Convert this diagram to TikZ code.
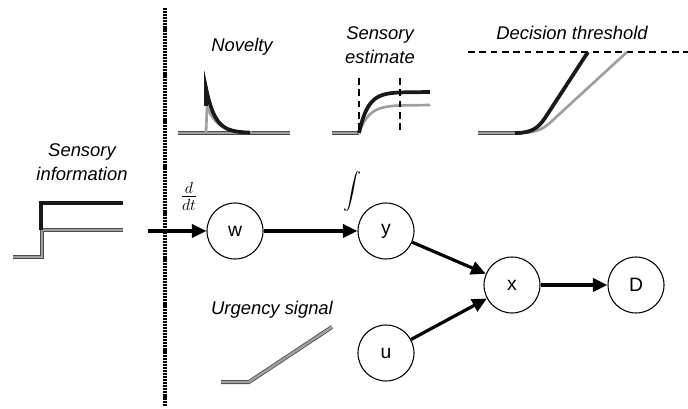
\documentclass[tikz,border=0pt]{standalone}
\usepackage{fontspec}
\setmainfont{Liberation Sans}
\usetikzlibrary{arrows.meta}
\begin{document}
\begin{tikzpicture}[x=0.75pt,y=-0.75pt,
  circ/.style={draw, circle, line width=0.8pt, minimum size=42pt, inner sep=0pt, font=\fontsize{14.5}{17}\selectfont},
  lbl/.style={font=\fontsize{13.8}{18}\selectfont\itshape, align=center, inner sep=0pt},
  conn/.style={line width=2.4pt, -{Triangle[length=11pt,width=10pt]}},
  blk/.style={line width=2.8pt, black!90},
  gry/.style={line width=2pt, gray!75},
  gryo/.style={line width=0.6pt, draw=black!70, double=gray!75, double distance=1.8pt},
  dsh/.style={line width=2pt, dash pattern=on 5pt off 3.5pt},
  dotl/.style={line width=2.4pt, dash pattern=on 1.6pt off 0.7pt}
]
\useasboundingbox (0,0) rectangle (688,409);

% vertical dotted separator
\coordinate (dtop) at (165,8);
\coordinate (dbot) at (165,406);
\draw[dotl] (dtop) -- (dbot);

% nodes
\node[circ] (w) at (235,231) {w};
\node[circ] (y) at (386,231) {y};
\node[circ] (x) at (512,285) {x};
\node[circ] (D) at (636,285) {D};
\node[circ] (u) at (386,353) {u};

\coordinate (in) at (148,231);
\draw[conn] (in) -- (w);
\draw[conn] (w) -- (y);
\draw[conn] (y) -- (x);
\draw[conn] (u) -- (x);
\draw[conn] (x) -- (D);

\node (ddt) at (189,196) {\fontsize{17}{19}\selectfont$\frac{d}{dt}$};
\node (int) at (352,192) {\scalebox{1.35}{$\displaystyle\int$}};

% Sensory information
\node[lbl] (si) at (82,162) {Sensory\\information};
\draw[gryo] (13,257) -- (42,257) -- (42,230) -- (123,230);
\draw[blk] (41,230) -- (41,203) -- (123,203);

% Novelty
\node[lbl] (nov) at (242,47) {Novelty};
\draw[gryo] (178,133) -- (290,133);
\draw[gry] (206,133) -- (207,107) -- plot[domain=0:45,samples=40] ({207+\x},{133-26*exp(-\x/11)});
\draw[blk] (206,106) -- (206,88) -- plot[domain=0:44,samples=40] ({206+\x},{133-45*exp(-\x/9)});

% Sensory estimate
\node[lbl] (se) at (380,45) {Sensory\\estimate};
\draw[gryo] (332,133) -- (359,133);
\draw[gry] plot[domain=0:41,samples=40] ({359+\x},{133-28*(1-exp(-\x/10))}) -- (430,105);
\draw[blk] plot[domain=0:41,samples=40] ({359+\x},{133-41*(1-exp(-\x/9))}) -- (430,92);
\draw[dsh] (359,78) -- (359,134);
\draw[dsh] (400,78) -- (400,134);

% Decision threshold
\node[lbl] (dt) at (572,33) {Decision threshold};
\draw[dsh, line width=2.2pt] (468,52) -- (688,52);
\draw[gryo] (478,133) -- (522,133);
\draw[gry] (520,133) .. controls (537,133) and (545,128) .. (553,120) -- (627,52);
\draw[blk] (515,133) .. controls (532,133) and (538,128) .. (545,118) -- (588,52);

% Urgency signal
\node[lbl] (us) at (272,310) {Urgency signal};
\draw[gryo] (221,382) -- (249,382) -- (332,327);

\end{tikzpicture}
\end{document}
